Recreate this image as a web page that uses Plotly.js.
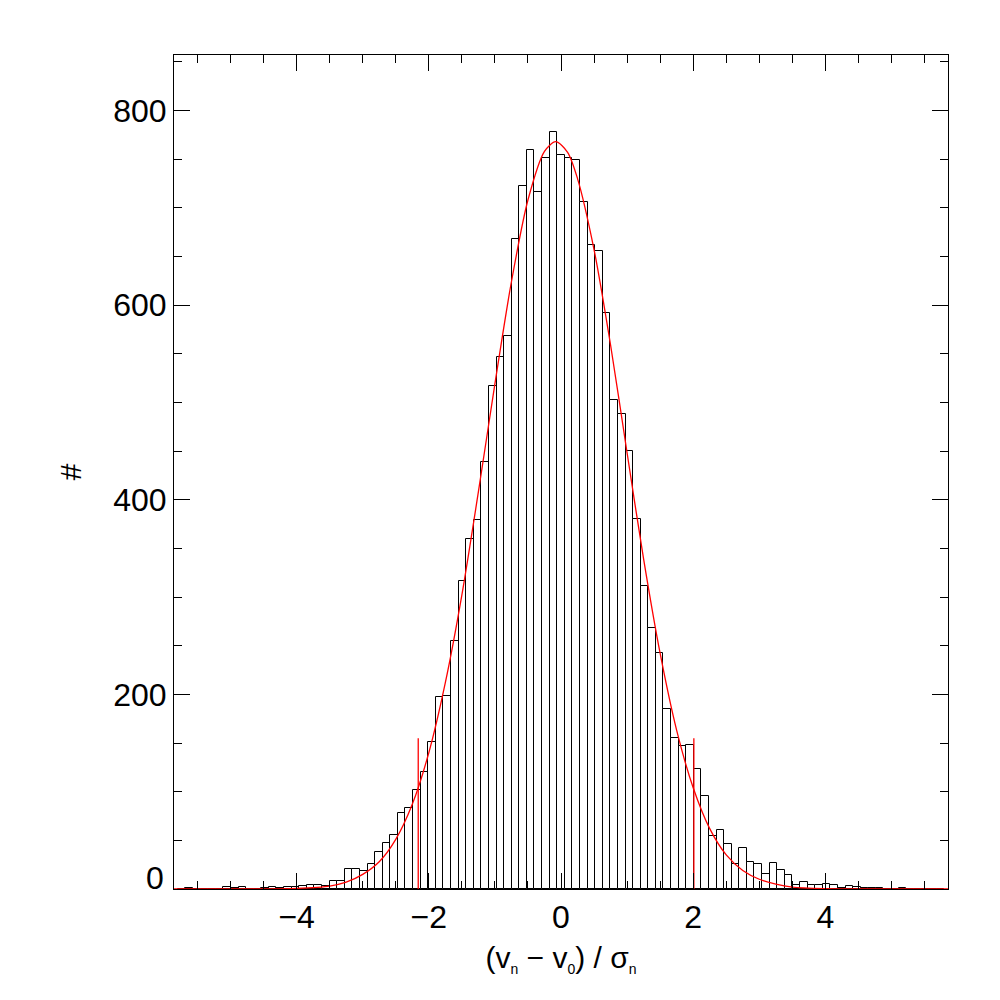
<!DOCTYPE html>
<html>
<head>
    <title>Normalised velocity residuals</title>
    <script src="https://cdn.plot.ly/plotly-3.0.1.min.js"></script>
    <style>
        body { margin: 0; background-color: white; }
        #hist { width: 1000px; height: 1000px; }
    </style>
</head>
<body>
    <div id="hist"></div>

    <script>
        // histogram: 101 bins, centred on zero
        const binWidth = 0.1148;
        const firstBinCenter = -50 * binWidth;
        const counts = [
            0, 1, 0, 0, 0, 0, 2, 1, 2, 0,
            0, 1, 2, 1, 2, 2, 3, 4, 4, 3,
            8, 8, 21, 21, 18, 26, 38, 47, 56, 78,
            83, 102, 120, 151, 197, 198, 255, 317, 360, 379,
            439, 517, 547, 568, 668, 722, 759, 716, 751, 778,
            754, 751, 749, 706, 662, 656, 592, 503, 488, 450,
            380, 311, 268, 243, 185, 155, 147, 148, 123, 96,
            54, 61, 46, 26, 42, 28, 26, 15, 27, 20,
            14, 4, 7, 4, 4, 5, 4, 1, 3, 2,
            1, 1, 1, 0, 0, 1, 0, 0, 0, 0,
            0
        ];

        // red fitted curve
        const fitX = [-5.855, -4.5, -4, -3.5, -3.25, -3, -2.75, -2.5, -2.25, -2,
                      -1.75, -1.5, -1.25, -1, -0.75, -0.5, -0.25, -0.08, 0.1, 0.25,
                      0.5, 0.75, 1, 1.25, 1.5, 1.75, 2, 2.25, 2.5, 2.75,
                      3, 3.25, 3.5, 4, 4.5, 5.855];
        const fitY = [0, 0, 0.6, 3, 7, 15, 28, 51, 87, 140,
                      212, 302, 408, 519, 624, 708, 758, 768, 757, 730,
                      657, 559, 448, 339, 242, 163, 104, 62, 35, 19,
                      10, 5, 2, 0.4, 0, 0];

        // the two red markers (+/- 2 sigma)
        const markX = [-2.16, 2.01];
        const markHeight = 155;

        const xTicks = [-4, -2, 0, 2, 4];
        const yTicks = [200, 400, 600, 800];

        const font = {family: 'Liberation Sans, Arial, sans-serif', color: 'black'};

        const bars = {
            type: 'bar',
            x0: firstBinCenter,
            dx: binWidth,
            y: counts,
            marker: {color: 'white', line: {color: 'black', width: 1}},
            hoverinfo: 'x+y'
        };

        const fit = {
            type: 'scatter',
            mode: 'lines',
            x: fitX,
            y: fitY,
            line: {color: 'red', width: 1.3, shape: 'spline', smoothing: 0.8}
        };

        const markXs = [], markYs = [];
        markX.forEach(function (v) {
            markXs.push(v, v, null);
            markYs.push(0, markHeight, null);
        });
        const marks = {
            type: 'scatter',
            mode: 'lines',
            x: markXs,
            y: markYs,
            line: {color: 'red', width: 1.3}
        };

        Plotly.newPlot('hist', [bars, fit, marks], {
            width: 1000,
            height: 1000,
            showlegend: false,
            bargap: 0,
            plot_bgcolor: 'white',
            paper_bgcolor: 'white',
            font: font,
            margin: {l: 174, r: 52, t: 55, b: 111},
            xaxis: {
                range: [-5.855, 5.855],
                tickmode: 'array',
                tickvals: xTicks,
                ticks: 'inside',
                ticklen: 16,
                tickwidth: 1,
                tickcolor: 'black',
                minor: {dtick: 0.5, tick0: 0, ticks: 'inside', ticklen: 8, tickcolor: 'black'},
                showline: true,
                linecolor: 'black',
                linewidth: 1,
                mirror: 'ticks',
                showgrid: false,
                zeroline: false,
                tickfont: {size: 32},
                title: {text: '(v<sub><span style="font-size:14px">n</span></sub> \u2212 v<sub><span style="font-size:14px">0</span></sub>) / \u03c3<sub><span style="font-size:14px">n</span></sub>',
                        font: {size: 30}, standoff: 12}
            },
            yaxis: {
                range: [0, 857],
                tickmode: 'array',
                tickvals: yTicks,
                ticks: 'inside',
                ticklen: 16,
                tickwidth: 1,
                tickcolor: 'black',
                minor: {dtick: 50, tick0: 0, ticks: 'inside', ticklen: 8, tickcolor: 'black'},
                showline: true,
                linecolor: 'black',
                linewidth: 1,
                mirror: 'ticks',
                showgrid: false,
                zeroline: false,
                tickfont: {size: 32},
                title: {text: '#', font: {size: 30}, standoff: 22}
            },
            annotations: [{
                // bottom y label sits just above the axis, as in the original
                text: '0',
                xref: 'paper', x: 0, xanchor: 'right', xshift: -8,
                yref: 'y', y: 0, yanchor: 'middle', yshift: 11,
                showarrow: false,
                font: {size: 32}
            }]
        }, {displayModeBar: false});
    </script>
</body>
</html>
